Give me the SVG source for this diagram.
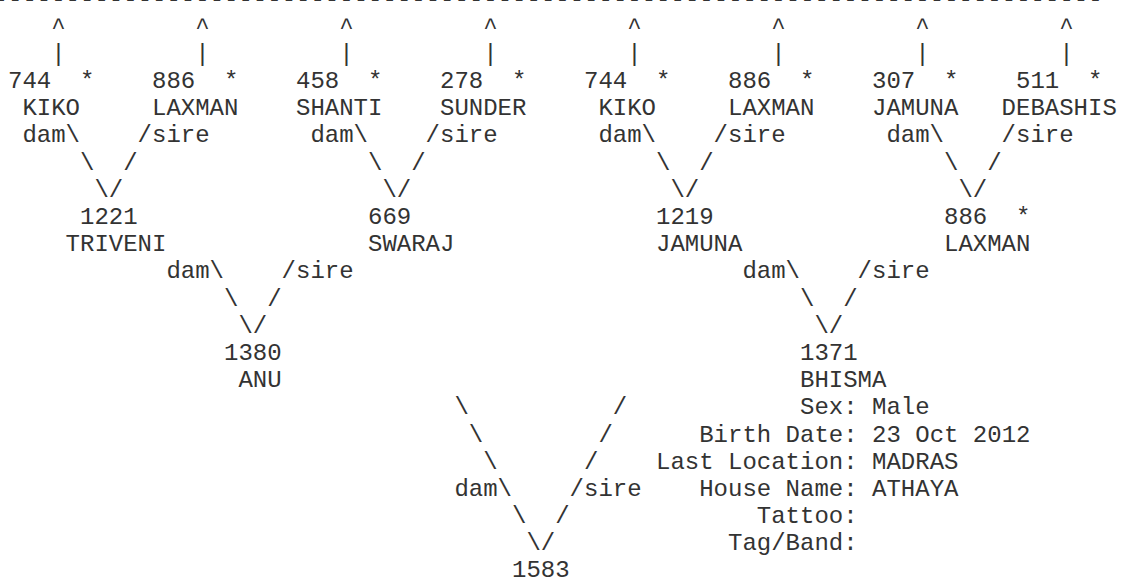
<svg xmlns="http://www.w3.org/2000/svg" width="1122" height="581" viewBox="0 0 1122 581">
<style>
text{font-family:"Liberation Mono","Courier New",monospace;font-size:24px;fill:#333333;white-space:pre}
</style>
<rect width="1122" height="581" fill="#ffffff"/>
<g id="rule"><text x="-6.4" y="6.4" xml:space="preserve">-----------------------------------------------------------------------------</text></g>
<g id="connectors">
<text x="51.2" y="33.6">^</text><text x="195.2" y="33.6">^</text><text x="339.2" y="33.6">^</text><text x="483.2" y="33.6">^</text><text x="627.2" y="33.6">^</text><text x="771.2" y="33.6">^</text><text x="915.2" y="33.6">^</text><text x="1059.2" y="33.6">^</text>
<text x="51.2" y="60.8">|</text><text x="195.2" y="60.8">|</text><text x="339.2" y="60.8">|</text><text x="483.2" y="60.8">|</text><text x="627.2" y="60.8">|</text><text x="771.2" y="60.8">|</text><text x="915.2" y="60.8">|</text><text x="1059.2" y="60.8">|</text>
<text x="22.4" y="142.4">dam\</text><text x="137.6" y="142.4">/sire</text>
<text x="310.4" y="142.4">dam\</text><text x="425.6" y="142.4">/sire</text>
<text x="598.4" y="142.4">dam\</text><text x="713.6" y="142.4">/sire</text>
<text x="886.4" y="142.4">dam\</text><text x="1001.6" y="142.4">/sire</text>
<text x="80" y="169.6">\</text><text x="123.2" y="169.6">/</text>
<text x="368" y="169.6">\</text><text x="411.2" y="169.6">/</text>
<text x="656" y="169.6">\</text><text x="699.2" y="169.6">/</text>
<text x="944" y="169.6">\</text><text x="987.2" y="169.6">/</text>
<text x="94.4" y="196.8">\</text><text x="108.8" y="196.8">/</text>
<text x="382.4" y="196.8">\</text><text x="396.8" y="196.8">/</text>
<text x="670.4" y="196.8">\</text><text x="684.8" y="196.8">/</text>
<text x="958.4" y="196.8">\</text><text x="972.8" y="196.8">/</text>
<text x="166.4" y="278.4">dam\</text><text x="281.6" y="278.4">/sire</text>
<text x="742.4" y="278.4">dam\</text><text x="857.6" y="278.4">/sire</text>
<text x="224" y="305.6">\</text><text x="267.2" y="305.6">/</text>
<text x="800" y="305.6">\</text><text x="843.2" y="305.6">/</text>
<text x="238.4" y="332.8">\</text><text x="252.8" y="332.8">/</text>
<text x="814.4" y="332.8">\</text><text x="828.8" y="332.8">/</text>
<text x="454.4" y="414.4">\</text><text x="612.8" y="414.4">/</text>
<text x="468.8" y="441.6">\</text><text x="598.4" y="441.6">/</text>
<text x="483.2" y="468.8">\</text><text x="584" y="468.8">/</text>
<text x="454.4" y="496">dam\</text><text x="569.6" y="496">/sire</text>
<text x="512" y="523.2">\</text><text x="555.2" y="523.2">/</text>
<text x="526.4" y="550.4">\</text><text x="540.8" y="550.4">/</text>
</g>
<g id="n744a"><text x="8" y="88">744</text><text x="80" y="88">*</text><text x="22.4" y="115.2">KIKO</text></g>
<g id="n886a"><text x="152" y="88">886</text><text x="224" y="88">*</text><text x="152" y="115.2">LAXMAN</text></g>
<g id="n458"><text x="296" y="88">458</text><text x="368" y="88">*</text><text x="296" y="115.2">SHANTI</text></g>
<g id="n278"><text x="440" y="88">278</text><text x="512" y="88">*</text><text x="440" y="115.2">SUNDER</text></g>
<g id="n744b"><text x="584" y="88">744</text><text x="656" y="88">*</text><text x="598.4" y="115.2">KIKO</text></g>
<g id="n886b"><text x="728" y="88">886</text><text x="800" y="88">*</text><text x="728" y="115.2">LAXMAN</text></g>
<g id="n307"><text x="872" y="88">307</text><text x="944" y="88">*</text><text x="872" y="115.2">JAMUNA</text></g>
<g id="n511"><text x="1016" y="88">511</text><text x="1088" y="88">*</text><text x="1001.6" y="115.2">DEBASHIS</text></g>
<g id="n1221"><text x="80" y="224">1221</text><text x="65.6" y="251.2">TRIVENI</text></g>
<g id="n669"><text x="368" y="224">669</text><text x="368" y="251.2">SWARAJ</text></g>
<g id="n1219"><text x="656" y="224">1219</text><text x="656" y="251.2">JAMUNA</text></g>
<g id="n886c"><text x="944" y="224">886</text><text x="1016" y="224">*</text><text x="944" y="251.2">LAXMAN</text></g>
<g id="n1380"><text x="224" y="360">1380</text><text x="238.4" y="387.2">ANU</text></g>
<g id="n1371"><text x="800" y="360">1371</text><text x="800" y="387.2">BHISMA</text>
<text x="800" y="414.4">Sex: Male</text>
<text x="699.2" y="441.6">Birth Date: 23 Oct 2012</text>
<text x="656" y="468.8">Last Location: MADRAS</text>
<text x="699.2" y="496">House Name: ATHAYA</text>
<text x="756.8" y="523.2">Tattoo:</text>
<text x="728" y="550.4">Tag/Band:</text></g>
<g id="n1583"><text x="512" y="577">1583</text></g>
</svg>
